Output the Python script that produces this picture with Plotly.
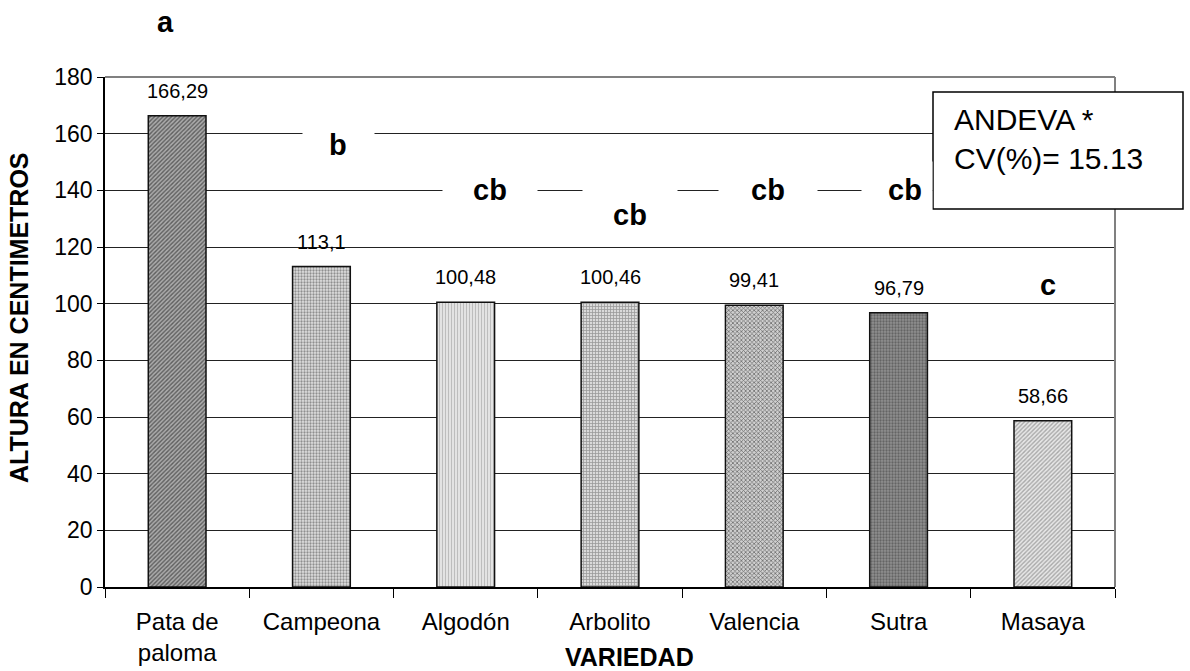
import plotly.graph_objects as go

# Plant height by variety
variedades = ["Pata de<br>paloma", "Campeona", "Algodón", "Arbolito", "Valencia", "Sutra", "Masaya"]
altura_cm = [166.29, 113.1, 100.48, 100.46, 99.41, 96.79, 58.66]

# Mean-separation letters
letras = ["a", "b", "cb", "cb", "cb", "cb", "c"]

FONT = "Liberation Sans, Arial, sans-serif"

# Plot area in pixels, used to place paper-referenced items
L, R, T, B = 105, 75, 77, 84
W, H = 1190, 671
PW, PH = W - L - R, H - T - B


def px_x(px):
    return (px - L) / PW


def px_y(py):
    return (H - B - py) / PH


# Fill patterns per bar: (shape, foreground, background, size)
patrones = [
    ("/", "#5e5e5e", "#acacac", 3),
    (".", "#8f8f8f", "#e0e0e0", 3),
    ("|", "#bdbdbd", "#ececec", 3),
    ("+", "#9a9a9a", "#dadada", 3),
    ("x", "#6e6e6e", "#cfcfcf", 3),
    (".", "#646464", "#909090", 3),
    ("/", "#a8a8a8", "#e8e8e8", 3),
]

fig = go.Figure()
for cat, val, (shp, fg, bg, sz) in zip(variedades, altura_cm, patrones):
    fig.add_trace(go.Bar(
        x=[cat], y=[val], width=0.4,
        marker=dict(
            color=bg,
            line=dict(color="#111111", width=1.5),
            pattern=dict(shape=shp, fgcolor=fg, bgcolor=bg, size=sz,
                         solidity=0.45, fillmode="replace"),
        ),
        showlegend=False, hoverinfo="skip",
    ))

annotations = []
# Value labels above each bar
for cat, val in zip(variedades, altura_cm):
    annotations.append(dict(
        x=cat, y=val, xref="x", yref="y", yshift=25,
        text=str(val).replace(".", ","), showarrow=False,
        font=dict(family=FONT, size=20, color="#000000"),
        yanchor="middle",
    ))

# White masks that break the gridlines around the letters:
# (left, right, top, bottom) in pixels
mascaras = [
    (303, 374, 117, 173),
    (443, 537, 162, 218),
    (583, 677, 188, 242),
    (719, 817, 162, 218),
    (862, 932, 162, 218),
    (1018, 1078, 270, 300),
]
for x0, x1, y0, y1 in mascaras:
    annotations.append(dict(
        x=px_x((x0 + x1) / 2), y=px_y((y0 + y1) / 2), xref="paper", yref="paper",
        text=" ", showarrow=False, bgcolor="#ffffff",
        width=x1 - x0, height=y1 - y0, borderpad=0,
        xanchor="center", yanchor="middle",
    ))

# Letter positions in pixels
letra_pos = [(165, 22), (338, 145), (490, 190), (630, 215), (768, 190), (905, 190), (1048, 285)]
for txt, (x, y) in zip(letras, letra_pos):
    annotations.append(dict(
        x=px_x(x), y=px_y(y), xref="paper", yref="paper", text="<b>%s</b>" % txt,
        showarrow=False, font=dict(family=FONT, size=29, color="#000000"),
        xanchor="center", yanchor="middle",
    ))

# ANOVA summary text (box drawn as a shape)
annotations.append(dict(
    x=px_x(952), y=px_y(139), xref="paper", yref="paper",
    text="ANDEVA *<br>CV(%)= 15.13", showarrow=False, align="left",
    xanchor="left", yanchor="middle",
    font=dict(family=FONT, size=30, color="#000000"),
))

# Axis titles
annotations.append(dict(
    x=px_x(19), y=px_y(318), xref="paper", yref="paper",
    text="<b>ALTURA EN CENTIMETROS</b>", textangle=-90, showarrow=False,
    font=dict(family=FONT, size=25, color="#000000"),
    xanchor="center", yanchor="middle",
))
annotations.append(dict(
    x=px_x(629), y=px_y(657), xref="paper", yref="paper",
    text="<b>VARIEDAD</b>", showarrow=False,
    font=dict(family=FONT, size=25, color="#000000"),
    xanchor="center", yanchor="middle",
))

shapes = [
    # gray frame on top and right of the plot area
    dict(type="line", xref="paper", yref="paper", x0=0, x1=1, y0=1, y1=1,
         line=dict(color="#808080", width=2), layer="above"),
    dict(type="line", xref="paper", yref="paper", x0=1, x1=1, y0=0, y1=1,
         line=dict(color="#808080", width=2), layer="above"),
    # box around the ANOVA summary
    dict(type="rect", xref="paper", yref="paper",
         x0=px_x(933), x1=px_x(1183), y0=px_y(209), y1=px_y(92),
         fillcolor="#ffffff", line=dict(color="#000000", width=1.5), layer="above"),
]

fig.update_layout(
    width=W, height=H,
    margin=dict(l=L, r=R, t=T, b=B, autoexpand=False),
    paper_bgcolor="#ffffff", plot_bgcolor="#ffffff",
    font=dict(family=FONT, size=24, color="#000000"),
    bargap=0.6,
    annotations=annotations,
    shapes=shapes,
    xaxis=dict(
        type="category", tickson="boundaries", ticks="outside", ticklen=9,
        tickcolor="#000000", showline=True, linecolor="#000000", linewidth=1.5,
        showgrid=False, tickfont=dict(family=FONT, size=24, color="#000000"),
        ticklabelstandoff=12, automargin=False,
        range=[-0.5, 6.5], fixedrange=True,
    ),
    yaxis=dict(
        range=[0, 180], dtick=20, ticks="outside", ticklen=6,
        tickcolor="#000000", showline=True, linecolor="#000000", linewidth=1.5,
        showgrid=True, gridcolor="#222222", gridwidth=1, zeroline=False,
        tickfont=dict(family=FONT, size=23, color="#000000"),
        automargin=False, fixedrange=True,
    ),
)

# Keep the page free of scrollbars so the full figure width is visible
fig.write_html(
    "out.html",
    config={"displayModeBar": False},
    post_script="document.documentElement.style.overflow='hidden';"
                "document.body.style.overflow='hidden';"
                "document.body.style.margin='0';",
)
